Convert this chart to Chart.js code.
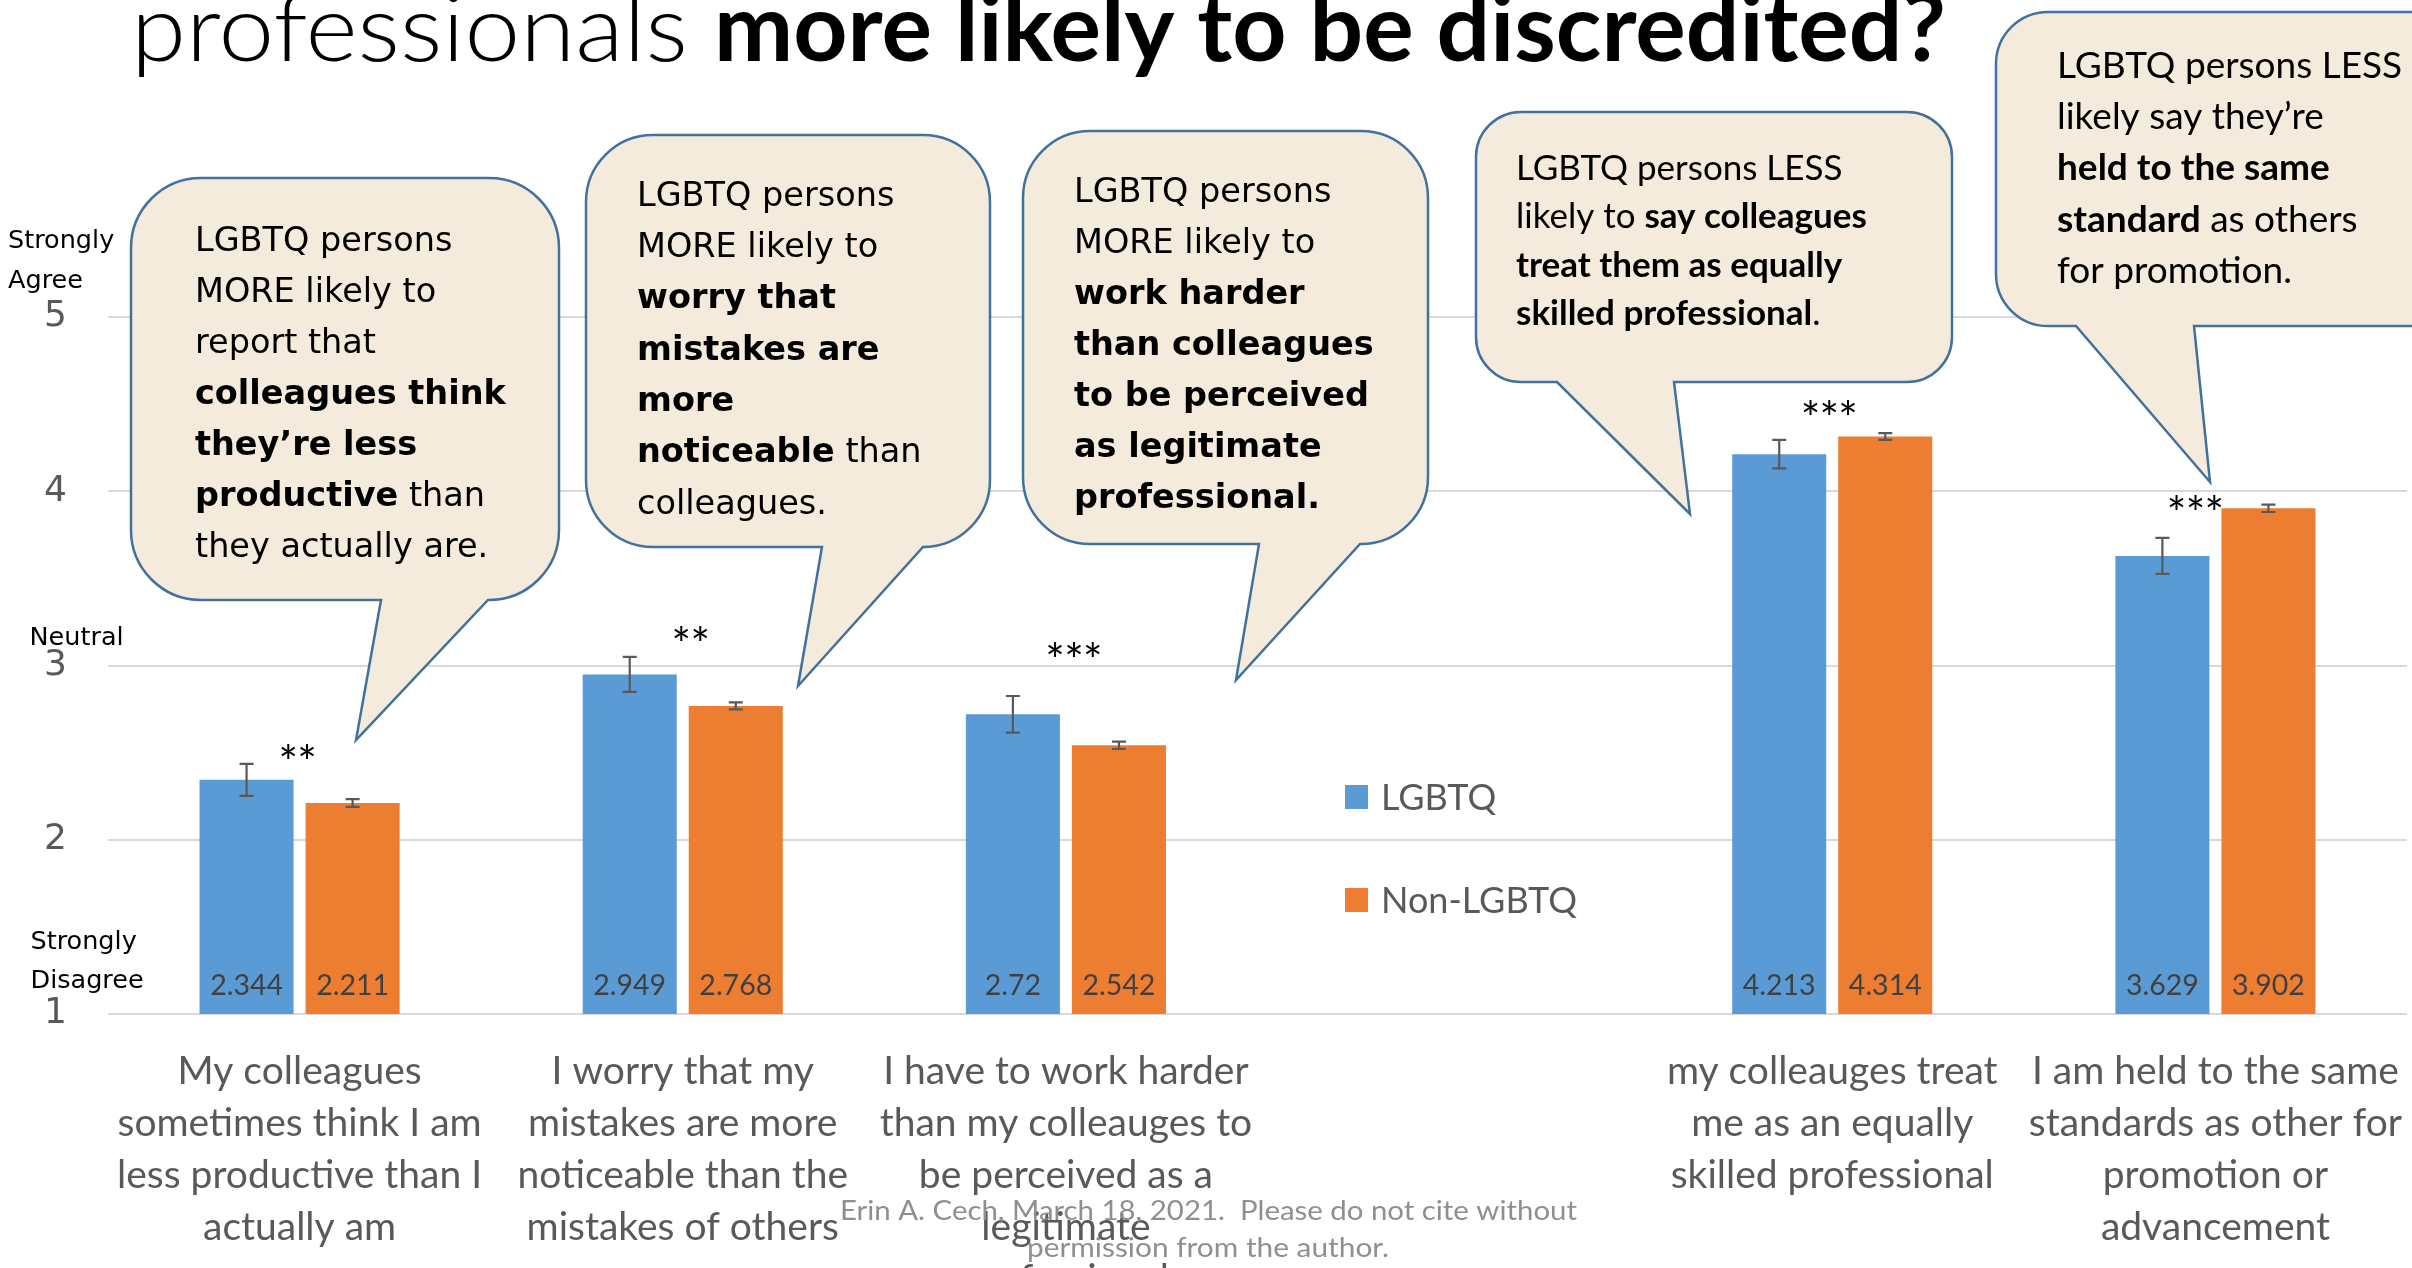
<!DOCTYPE html>
<html><head><meta charset="utf-8">
<script src="https://cdn.jsdelivr.net/npm/chart.js@4.4.1/dist/chart.umd.min.js"></script>
<style>html,body{margin:0;padding:0;background:#fff;overflow:hidden}#wrap{position:relative;width:2412px;height:1268px}</style>
</head><body><div id="wrap"><canvas id="c" width="2412" height="1268"></canvas></div>
<script>
// ---------- DATA ----------
const categories = [
  ['My colleagues','sometimes think I am','less productive than I','actually am'],
  ['I worry that my','mistakes are more','noticeable than the','mistakes of others'],
  ['I have to work harder','than my colleauges to','be perceived as a','legitimate','professional'],
  '',
  ['my colleauges treat','me as an equally','skilled professional'],
  ['I am held to the same','standards as other for','promotion or','advancement']
];
const seriesNames = ['LGBTQ', 'Non-LGBTQ'];
const lgbtqMeans    = [2.344, 2.949, 2.72, null, 4.213, 3.629];
const nonLgbtqMeans = [2.211, 2.768, 2.542, null, 4.314, 3.902];
const lgbtqErr      = [0.092, 0.10, 0.105, null, 0.082, 0.103];
const nonLgbtqErr   = [0.022, 0.02, 0.021, null, 0.019, 0.021];
const significance  = ['**', '**', '***', '', '***', '***'];
const yTickValues   = [1, 2, 3, 4, 5];
const yAnchorLabels = [['Strongly','Agree'], ['Neutral'], ['Strongly','Disagree']];
const titleRegular = 'professionals';
const titleBold = 'more likely to be discredited?';
const footerLines = ['Erin A. Cech, March 18, 2021.  Please do not cite without', 'permission from the author.'];
const calloutTexts = [
  [[['LGBTQ persons',0]], [['MORE likely to',0]], [['report that',0]], [['colleagues think',1]], [['they\u2019re less',1]], [['productive',1],[' than',0]], [['they actually are.',0]]],
  [[['LGBTQ persons',0]], [['MORE likely to',0]], [['worry that',1]], [['mistakes are',1]], [['more',1]], [['noticeable',1],[' than',0]], [['colleagues.',0]]],
  [[['LGBTQ persons',0]], [['MORE likely to',0]], [['work harder',1]], [['than colleagues',1]], [['to be perceived',1]], [['as legitimate',1]], [['professional.',1]]],
  [[['LGBTQ persons LESS',0]], [['likely to ',0],['say colleagues',1]], [['treat them as equally',1]], [['skilled professional',1],['.',0]]],
  [[['LGBTQ persons LESS',0]], [['likely say they\u2019re',0]], [['held to the same',1]], [['standard',1],[' as others',0]], [['for promotion.',0]]]
];

// ---------- LAYOUT / STYLE ----------
const calloutGeom = [
  {x:131, y:178, w:428, h:422, r:70, b1:381, b2:488, tx:356, ty:740, textX:195, base:250.5, lh:51, fam:'DejaVu Sans', size:33.5},
  {x:586, y:135, w:404, h:412, r:67, b1:822, b2:923, tx:798, ty:686, textX:637, base:205.7, lh:51.3, fam:'DejaVu Sans', size:33.5},
  {x:1023, y:131, w:405, h:413, r:67, b1:1259, b2:1360, tx:1236, ty:680, textX:1074, base:202.3, lh:51, fam:'DejaVu Sans', size:33.5},
  {x:1476, y:112, w:476, h:270, r:45, b1:1557, b2:1674, tx:1690, ty:514, textX:1516, base:180, lh:48.3, fam:'Lato', size:35},
  {x:1996, y:12, w:480, h:314, r:52, b1:2076, b2:2194, tx:2210, ty:482, textX:2057, base:77.7, lh:51.3, fam:'Lato', size:37}
];
const starPlace = [{dx:-2, v:2.504}, {dx:8, v:3.181}, {dx:8, v:3.089}, null, {dx:-3, v:4.483}, {dx:-20, v:3.934}];
const anchorPlace = [{x:8, base:[248, 288]}, {x:29.5, base:[645]}, {x:30.5, base:[949, 988]}];

function drawFit(ctx, text, x, y, width, font, color) {
  ctx.save();
  ctx.font = font;
  const w = ctx.measureText(text).width;
  const s = width / w;
  ctx.translate(x, y);
  ctx.scale(s, 1);
  ctx.fillStyle = color;
  ctx.textAlign = 'left';
  ctx.fillText(text, 0, 0);
  ctx.restore();
}

function calloutPath(ctx, c) {
  const {x, y, w, h, r, b1, b2, tx, ty} = c;
  const R = x + w, B = y + h;
  ctx.beginPath();
  ctx.moveTo(x + r, y);
  ctx.lineTo(R - r, y);
  ctx.arcTo(R, y, R, y + r, r);
  ctx.lineTo(R, B - r);
  ctx.arcTo(R, B, R - r, B, r);
  ctx.lineTo(b2, B);
  ctx.lineTo(tx, ty);
  ctx.lineTo(b1, B);
  ctx.lineTo(x + r, B);
  ctx.arcTo(x, B, x, B - r, r);
  ctx.lineTo(x, y + r);
  ctx.arcTo(x, y, x + r, y, r);
  ctx.closePath();
}

const overlayPlugin = {
  id: 'overlay',
  afterDatasetsDraw(chart) {
    const ctx = chart.ctx;
    const ys = chart.scales.y;
    const y1 = ys.getPixelForValue(1);
    chart.data.datasets.forEach((ds, di) => {
      const meta = chart.getDatasetMeta(di);
      meta.data.forEach((el, i) => {
        const v = ds.data[i];
        if (v === null || v === undefined) return;
        const e = ds.errors[i];
        const top = ys.getPixelForValue(v + e), bot = ys.getPixelForValue(v - e);
        ctx.save();
        ctx.strokeStyle = '#595959';
        ctx.lineWidth = 2.2;
        ctx.beginPath();
        ctx.moveTo(el.x, top); ctx.lineTo(el.x, bot);
        ctx.moveTo(el.x - 7, top); ctx.lineTo(el.x + 7, top);
        ctx.moveTo(el.x - 7, bot); ctx.lineTo(el.x + 7, bot);
        ctx.stroke();
        ctx.fillStyle = '#404040';
        ctx.font = '28.5px Lato';
        ctx.textAlign = 'center';
        ctx.textBaseline = 'alphabetic';
        ctx.fillText(String(v), el.x, y1 - 19);
        ctx.restore();
      });
    });
  },
  afterDraw(chart) {
    const ctx = chart.ctx;
    const xs = chart.scales.x, ys = chart.scales.y;
    ctx.save();
    ctx.textBaseline = 'alphabetic';
    drawFit(ctx, titleRegular, 131, 61, 557, '300 93px Lato', '#000');
    drawFit(ctx, titleBold, 714, 61, 1232, 'bold 93px Lato', '#000');

    ctx.fillStyle = '#000';
    ctx.font = '25.5px "DejaVu Sans"';
    ctx.textAlign = 'left';
    ctx.textBaseline = 'alphabetic';
    yAnchorLabels.forEach((lines, k) => {
      lines.forEach((t, j) => ctx.fillText(t, anchorPlace[k].x, anchorPlace[k].base[j]));
    });

    ctx.fillStyle = '#000';
    ctx.font = '46px Lato';
    ctx.textAlign = 'center';
    const m = ctx.measureText('*');
    const off = (m.actualBoundingBoxAscent - m.actualBoundingBoxDescent) / 2;
    significance.forEach((s, i) => {
      if (!s || !starPlace[i]) return;
      const cx = xs.getPixelForValue(i) + starPlace[i].dx;
      const cy = ys.getPixelForValue(starPlace[i].v);
      const step = 18.8;
      for (let k = 0; k < s.length; k++) {
        const sx = cx + (k - (s.length - 1) / 2) * step;
        ctx.fillText('*', sx, cy + off);
      }
    });

    chart.data.datasets.forEach((ds, i) => {
      const cy = 797 + i * 103;
      ctx.fillStyle = ds.backgroundColor;
      ctx.fillRect(1345, cy - 12, 23, 24);
      ctx.fillStyle = '#595959';
      ctx.font = '36px Lato';
      ctx.textAlign = 'left';
      ctx.textBaseline = 'middle';
      ctx.fillText(ds.label, 1381, cy + 1);
    });

    calloutGeom.forEach((c, k) => {
      calloutPath(ctx, c);
      ctx.fillStyle = '#F5EBDD';
      ctx.fill();
      ctx.strokeStyle = '#41719C';
      ctx.lineWidth = 2.5;
      ctx.lineJoin = 'miter';
      ctx.stroke();
      ctx.fillStyle = '#000';
      ctx.textAlign = 'left';
      ctx.textBaseline = 'alphabetic';
      calloutTexts[k].forEach((line, j) => {
        let cx = c.textX;
        const by = c.base + j * c.lh;
        line.forEach(([t, b]) => {
          ctx.font = (b ? 'bold ' : '') + c.size + 'px "' + c.fam + '"';
          ctx.fillText(t, cx, by);
          cx += ctx.measureText(t).width;
        });
      });
    });

    ctx.textBaseline = 'middle';
    drawFit(ctx, footerLines[0], 840, 1212, 737, '26px Lato', '#8F8F8F');
    drawFit(ctx, footerLines[1], 1027, 1249, 362, '26px Lato', '#8F8F8F');
    ctx.restore();
  }
};

new Chart(document.getElementById('c'), {
  type: 'bar',
  data: {
    labels: categories,
    datasets: [
      {label: seriesNames[0], data: lgbtqMeans, errors: lgbtqErr, backgroundColor: '#5B9BD5', categoryPercentage: 0.5535, barPercentage: 0.887},
      {label: seriesNames[1], data: nonLgbtqMeans, errors: nonLgbtqErr, backgroundColor: '#ED7D31', categoryPercentage: 0.5535, barPercentage: 0.887}
    ]
  },
  options: {
    responsive: false,
    animation: false,
    devicePixelRatio: 1,
    layout: {padding: {top: 317, right: 5, bottom: 0, left: 0}},
    plugins: {legend: {display: false}, tooltip: {enabled: false}},
    scales: {
      x: {
        grid: {display: false, drawTicks: false},
        border: {display: false},
        ticks: {color: '#595959', font: {family: 'Lato', size: 39, lineHeight: 1.333}, padding: 31, autoSkip: false, maxRotation: 0, minRotation: 0},
        afterFit(s) { s.height = 254; s.paddingLeft = 0; s.paddingRight = 0; }
      },
      y: {
        min: 1, max: 5,
        grid: {color: '#D9D9D9', lineWidth: 2, drawTicks: false},
        border: {display: false},
        ticks: {stepSize: 1, color: '#595959', font: {family: 'DejaVu Sans', size: 36}, padding: 41},
        afterBuildTicks(s) { s.ticks = yTickValues.map(v => ({value: v})); },
        afterFit(s) { s.width = 108; }
      }
    }
  },
  plugins: [overlayPlugin]
});
</script>
</body></html>
